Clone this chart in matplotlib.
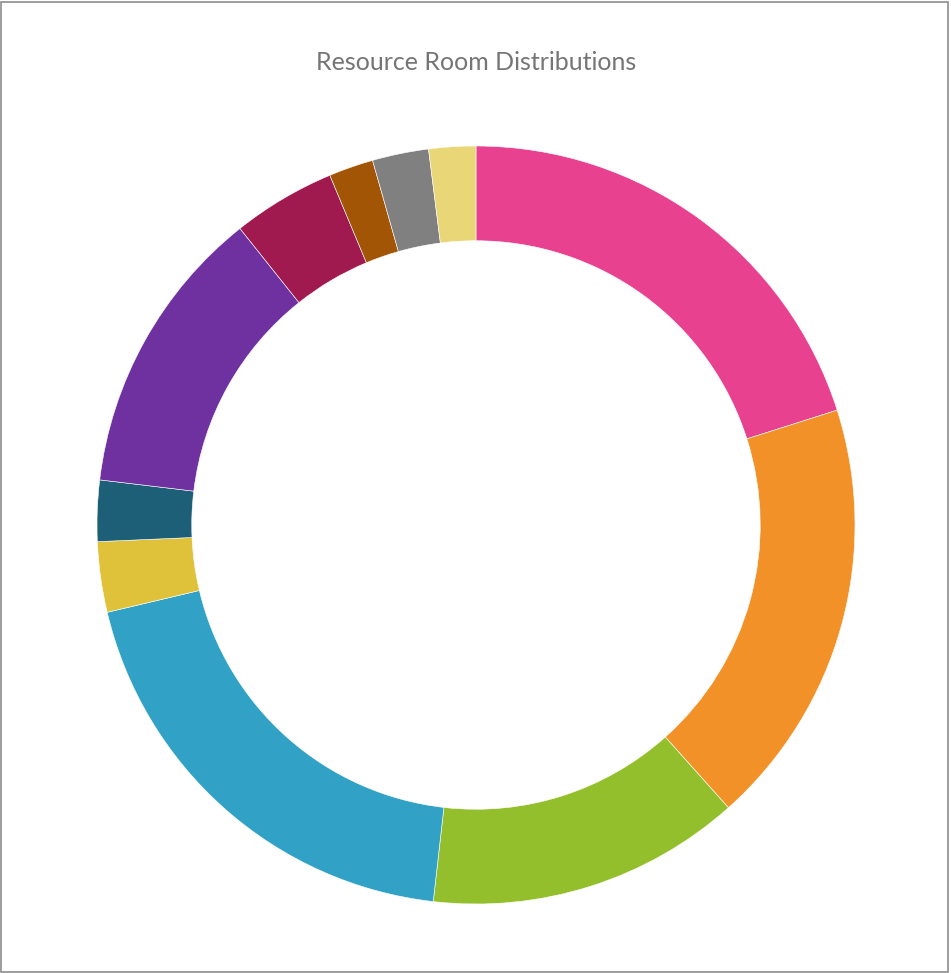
import matplotlib
matplotlib.use("Agg")
import matplotlib.pyplot as plt
from matplotlib.patches import Rectangle

# share of each slice, clockwise from 12 o'clock
categories = ["A", "B", "C", "D", "E", "F", "G", "H", "I", "J", "K"]
values = [20.1, 18.3, 13.4, 19.5, 3.0, 2.6, 12.4, 4.4, 1.9, 2.4, 2.0]
colors = ["#E8418F", "#F39129", "#94BF2C", "#31A1C6", "#DFC23A", "#1D5F76",
          "#6F31A0", "#A0194F", "#A35506", "#808080", "#E8D677"]

W, H = 951, 973
fig = plt.figure(figsize=(W / 100, H / 100), dpi=100)

cx, cy, r = 476, 525, 379
ax = fig.add_axes([(cx - r) / W, (H - cy - r) / H, 2 * r / W, 2 * r / H])
ax.pie(values, colors=colors, startangle=90, counterclock=False, radius=1,
       wedgeprops=dict(width=0.25, edgecolor="white", linewidth=0.4))
ax.set_xlim(-1, 1)
ax.set_ylim(-1, 1)
ax.set_aspect("equal")
ax.axis("off")

fig.text(476 / W, 1 - 63 / H, "Resource Room Distributions", ha="center",
         va="center", fontsize=18, color="#757575", family="Lato")

# thin grey frame round the chart area
fig.patches.append(Rectangle((0.5 / W, 1.5 / H), (W - 3.5) / W, (H - 3) / H,
                             transform=fig.transFigure, fill=False,
                             edgecolor="#8c8c8c", linewidth=1.2))

fig.savefig("out.png", dpi=100)
